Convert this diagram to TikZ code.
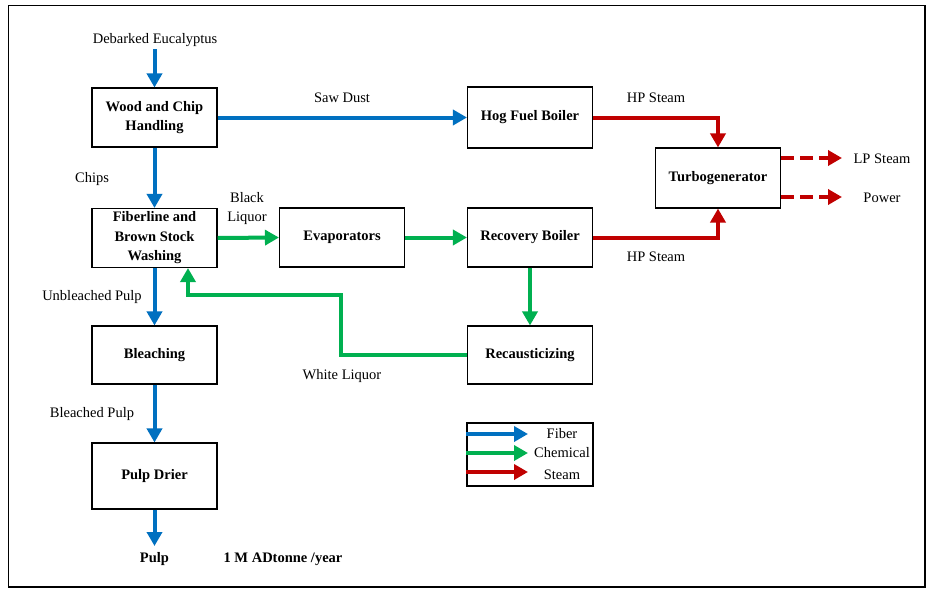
\documentclass[tikz,border=0pt]{standalone}
\usepackage{fontspec}
\setmainfont{Liberation Serif}
\usetikzlibrary{arrows.meta}
\definecolor{fibc}{HTML}{0070C0}
\definecolor{chemc}{HTML}{00B050}
\definecolor{steamc}{HTML}{C00000}
\begin{document}
\begin{tikzpicture}[x=1pt,y=-1pt,
  every node/.style={font=\fontsize{14.5}{19.5}\selectfont, inner sep=0pt},
  procbox/.style={draw=black, line width=1.1pt, minimum width=125pt, minimum height=59pt, align=center, font=\fontsize{14.5}{19.5}\selectfont\bfseries},
  flow/.style={line width=4pt, -{Triangle[width=15pt,length=14pt]}},
  fib/.style={flow, draw=fibc, fibc},
  chem/.style={flow, draw=chemc, chemc},
  steam/.style={flow, draw=steamc, steamc},
  steamdash/.style={steam, dash pattern=on 13pt off 6pt},
  lbl/.style={align=center}
]
\useasboundingbox (0,0) rectangle (930,589);
\fill[white] (0,0) rectangle (930,589);
\draw[line width=1.5pt] (8.5,5.5) rectangle (925,587);

% process boxes
\node[procbox] (wood) at (154.5,117.5) {Wood and Chip\\Handling};
\node[procbox] (fiber) at (154.5,238) {Fiberline and\\Brown Stock\\Washing};
\node[procbox] (evap) at (342,237.5) {Evaporators};
\node[procbox, minimum height=61pt] (hog) at (530,117.5) {Hog Fuel Boiler};
\node[procbox] (rec) at (530,237.5) {Recovery Boiler};
\node[procbox, minimum height=60pt] (turbo) at (718,178) {Turbogenerator};
\node[procbox, minimum height=58pt] (bleach) at (154.5,355) {Bleaching};
\node[procbox, minimum height=66pt] (drier) at (154.5,476) {Pulp Drier};
\node[procbox, minimum height=58pt] (recaus) at (530,355) {Recausticizing};

% labels
\node[lbl] (debark) at (155,40) {Debarked Eucalyptus};
\node[lbl] (chips) at (92,179) {Chips};
\node[lbl] (saw) at (342,98) {Saw Dust};
\node[lbl] (black) at (247,208.5) {Black\\Liquor};
\node[lbl] (hp1) at (656,98) {HP Steam};
\node[lbl] (hp2) at (656,257) {HP Steam};
\node[lbl] (lps) at (882,159) {LP Steam};
\node[lbl] (power) at (882,198) {Power};
\node[lbl] (unbl) at (92,297) {Unbleached Pulp};
\node[lbl] (blp) at (92,414) {Bleached Pulp};
\node[lbl] (white) at (342,376) {White Liquor};
\node[lbl, font=\fontsize{14.5}{19.5}\selectfont\bfseries] (pulp) at (154.5,559) {Pulp};
\node[lbl, font=\fontsize{14.5}{19.5}\selectfont\bfseries] (tonne) at (283,559) {1 M ADtonne /year};

% fiber flows
\coordinate (debarkend) at (154.5,49);
\coordinate (pulpend) at (154.5,546);
\draw[fib] (debarkend) -- (wood.north);
\draw[fib] (wood.south) -- (fiber.north);
\draw[fib] (wood.east) -- (hog.west);
\draw[fib] (fiber.south) -- (bleach.north);
\draw[fib] (bleach.south) -- (drier.north);
\draw[fib] (drier.south) -- (pulpend);

% chemical flows
\draw[chem] (fiber.east) -- (evap.west);
\draw[chem] (evap.east) -- (rec.west);
\draw[chem] (rec.south) -- (recaus.north);
\coordinate (wl1) at (341,355);
\coordinate (wl2) at (341,295);
\draw[chem] (recaus.west) -- (wl1) -- (wl2) -| ([xshift=33.5pt]fiber.south);

% steam flows
\draw[steam] (hog.east) -| (turbo.north);
\draw[steam] (rec.east) -| (turbo.south);
\coordinate (lpend) at (842,158);
\coordinate (powend) at (842,197);
\draw[steamdash] (turbo.east |- lpend) -- (lpend);
\draw[steamdash] (turbo.east |- powend) -- (powend);

% legend
\node[draw=black, line width=1.1pt, minimum width=126pt, minimum height=63pt] (legend) at (530,454.5) {};
\coordinate (lf) at (528,434);
\coordinate (lc) at (528,453);
\coordinate (ls) at (528,472);
\draw[fib] (legend.west |- lf) -- (lf);
\draw[chem] (legend.west |- lc) -- (lc);
\draw[steam] (legend.west |- ls) -- (ls);
\node[lbl] (lfib) at (562,434) {Fiber};
\node[lbl] (lchem) at (562,453) {Chemical};
\node[lbl] (lsteam) at (562,475) {Steam};
\end{tikzpicture}
\end{document}
